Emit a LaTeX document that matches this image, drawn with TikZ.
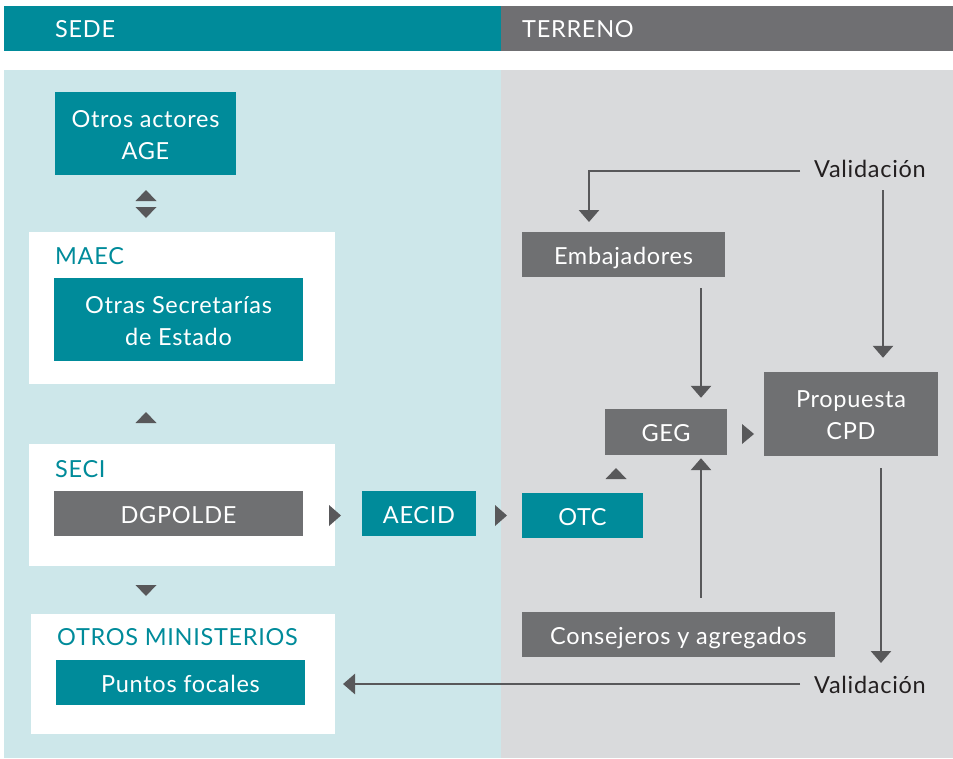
\documentclass[tikz,border=0pt]{standalone}
\usepackage{fontspec}
\setmainfont{Lato}[LetterSpace=3]
\usetikzlibrary{arrows.meta}
\definecolor{teal}{HTML}{008B9A}
\definecolor{hgray}{HTML}{6F6F72}
\definecolor{lteal}{HTML}{CDE7EA}
\definecolor{lgray}{HTML}{D9DADC}
\definecolor{bgray}{HTML}{6F7072}
\definecolor{agray}{HTML}{58585A}
\definecolor{txt}{HTML}{231F20}
\begin{document}
\begin{tikzpicture}[x=1pt,y=-1pt,
  every node/.style={font=\fontsize{23.5}{32}\selectfont},
  tealbox/.style={fill=teal,text=white,inner sep=0pt,align=center},
  graybox/.style={fill=bgray,text=white,inner sep=0pt,align=center},
  oneline/.style={text height=19pt,text depth=0pt},
  twoline/.style={text height=51pt,text depth=0pt},
  whitebox/.style={fill=white},
  lbl/.style={text=teal,anchor=west,inner sep=0pt},
  hdr/.style={text=white,anchor=west,inner sep=0pt},
  arr/.style={draw=agray,line width=2.8pt,-{Triangle[width=20pt,length=12pt]}},
  tri/.style={fill=agray},
  val/.style={text=txt,inner sep=0pt,anchor=west}]
\useasboundingbox (0,0) rectangle (953,758);
\fill[white] (0,0) rectangle (953,758);
% headers
\fill[teal] (4,6) rectangle (501,51);
\fill[hgray] (501,6) rectangle (953,51);
\node[hdr] (sede) at (55,29) {SEDE};
\node[hdr] (terreno) at (522,29) {TERRENO};
% panels
\fill[lteal] (4,70) rectangle (501,758);
\fill[lgray] (501,70) rectangle (953,758);
% white group boxes
\fill[whitebox] (29,232) rectangle (335,384);
\fill[whitebox] (29,444) rectangle (335,566);
\fill[whitebox] (31,614) rectangle (335,734);
\coordinate (om) at (335,674);
\node[lbl] (maec) at (55,256) {MAEC};
\node[lbl] (seci) at (55,469) {SECI};
\node[lbl] (otrosmin) at (57,637) {OTROS MINISTERIOS};
% boxes
\node[tealbox,twoline,minimum width=181pt,minimum height=83pt] (age) at (145.5,133.5) {Otros actores\\AGE};
\node[tealbox,twoline,minimum width=249pt,minimum height=83pt] (ose) at (178.5,319.5) {Otras Secretarías\\de Estado};
\node[graybox,oneline,minimum width=249pt,minimum height=45pt] (dgp) at (178.5,513.5) {DGPOLDE};
\node[tealbox,oneline,minimum width=249pt,minimum height=45pt] (pf) at (180.5,682.5) {Puntos focales};
\node[tealbox,oneline,minimum width=114pt,minimum height=45pt] (aecid) at (419,513.5) {AECID};
\node[tealbox,oneline,minimum width=121pt,minimum height=45pt] (otc) at (582.5,515.5) {OTC};
\node[graybox,oneline,minimum width=122pt,minimum height=46pt] (geg) at (666,432) {GEG};
\node[graybox,twoline,minimum width=174pt,minimum height=84pt] (prop) at (851,414) {Propuesta\\CPD};
\node[graybox,oneline,minimum width=203pt,minimum height=45pt] (emb) at (623.5,254.5) {Embajadores};
\node[graybox,oneline,minimum width=313pt,minimum height=45pt] (cons) at (678.5,634.5) {Consejeros y agregados};
\node[val] (vt) at (814,169) {Validación};
\node[val] (vb) at (814,685) {Validación};
% small triangles
\fill[tri] (146,190) -- (156.5,201) -- (135.5,201) -- cycle;
\fill[tri] (135.5,207) -- (156.5,207) -- (146,218) -- cycle;
\fill[tri] (146,412) -- (156.5,423) -- (135.5,423) -- cycle;
\fill[tri] (135.5,585) -- (156.5,585) -- (146,596) -- cycle;
\fill[tri] (329,505) -- (341,515.5) -- (329,526) -- cycle;
\fill[tri] (495,505) -- (507,515.5) -- (495,526) -- cycle;
\fill[tri] (616,468) -- (626.5,479) -- (605.5,479) -- cycle;
\fill[tri] (742,424) -- (754,434) -- (742,444) -- cycle;
% connectors
\coordinate (x701) at (701,0);
\coordinate (x883) at (883,0);
\coordinate (x881) at (881,0);
\coordinate (e1) at (589,222);
\coordinate (e2) at (881,663);
\coordinate (vts) at (800,171);
\coordinate (vbs) at (800,684);
\coordinate (v1) at (883,190);
\draw[arr] (vts) -| (e1);
\draw[arr] (v1) -- ([yshift=14pt]prop.north -| x883);
\draw[arr,shorten <=11pt,shorten >=11pt] (emb.south -| x701) -- (geg.north -| x701);
\draw[arr,shorten <=14pt,shorten >=3pt] (cons.north -| x701) -- (geg.south -| x701);
\draw[arr,shorten <=12pt] (prop.south -| x881) -- (e2);
\draw[arr] (vbs) -- ([xshift=8pt]om |- vbs);
\end{tikzpicture}
\end{document}
